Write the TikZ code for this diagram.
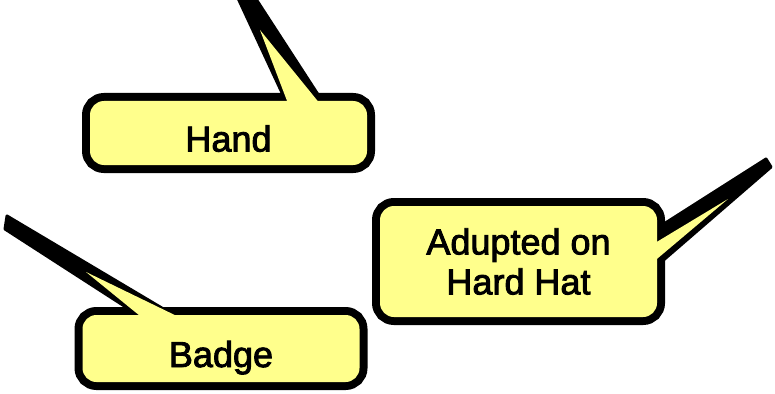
\documentclass[tikz,border=0pt]{standalone}
\usepackage{fontspec}
\setmainfont{Liberation Sans}
\newfontfamily\calloutfont[FakeBold=2.5]{Liberation Sans}
\definecolor{calloutyellow}{RGB}{255,255,140}

\begin{document}
\begin{tikzpicture}[x=1pt,y=-1pt,
	callout/.style={rectangle,rounded corners=14pt,minimum width=277pt,inner sep=0,outer sep=0,fill=calloutyellow,preaction={draw,line width=16pt},font=\calloutfont\fontsize{36}{40}\selectfont,align=center},
	lowtext/.style={text height=37pt,text depth=0pt},
	tail/.style={fill=black,draw=black,line width=3pt,line join=round},
	sliver/.style={fill=calloutyellow}]
	\useasboundingbox (0,0) rectangle (775,393);
	% black tails first
	\path[tail] (237,-4) -- (254,-4) -- (328,110) -- (290,110) -- cycle;
	\path[tail] (7,216) -- (182,320) -- (146,320) -- (5,229) -- cycle;
	\path[tail] (766,159) -- (771,167) -- (645,276) -- (645,236) -- cycle;
	% the boxes
	\node[callout,lowtext,minimum height=64pt] (hand) at (228.5,133) {Hand};
	\node[callout,lowtext,minimum height=67pt] (badge) at (221,348.5) {Badge};
	\node[callout,minimum height=111pt] (hat) at (518.5,261.5) {Adupted on\\Hard Hat};
	% yellow inside the tails, over the box edges
	\path[sliver] (260,30) -- (325,110) -- (290.5,110) -- cycle;
	\path[sliver] (86,272) -- (185,320) -- (145,320) -- cycle;
	\path[sliver] (728,199) -- (645,269) -- (645,249) -- cycle;
\end{tikzpicture}
\end{document}
